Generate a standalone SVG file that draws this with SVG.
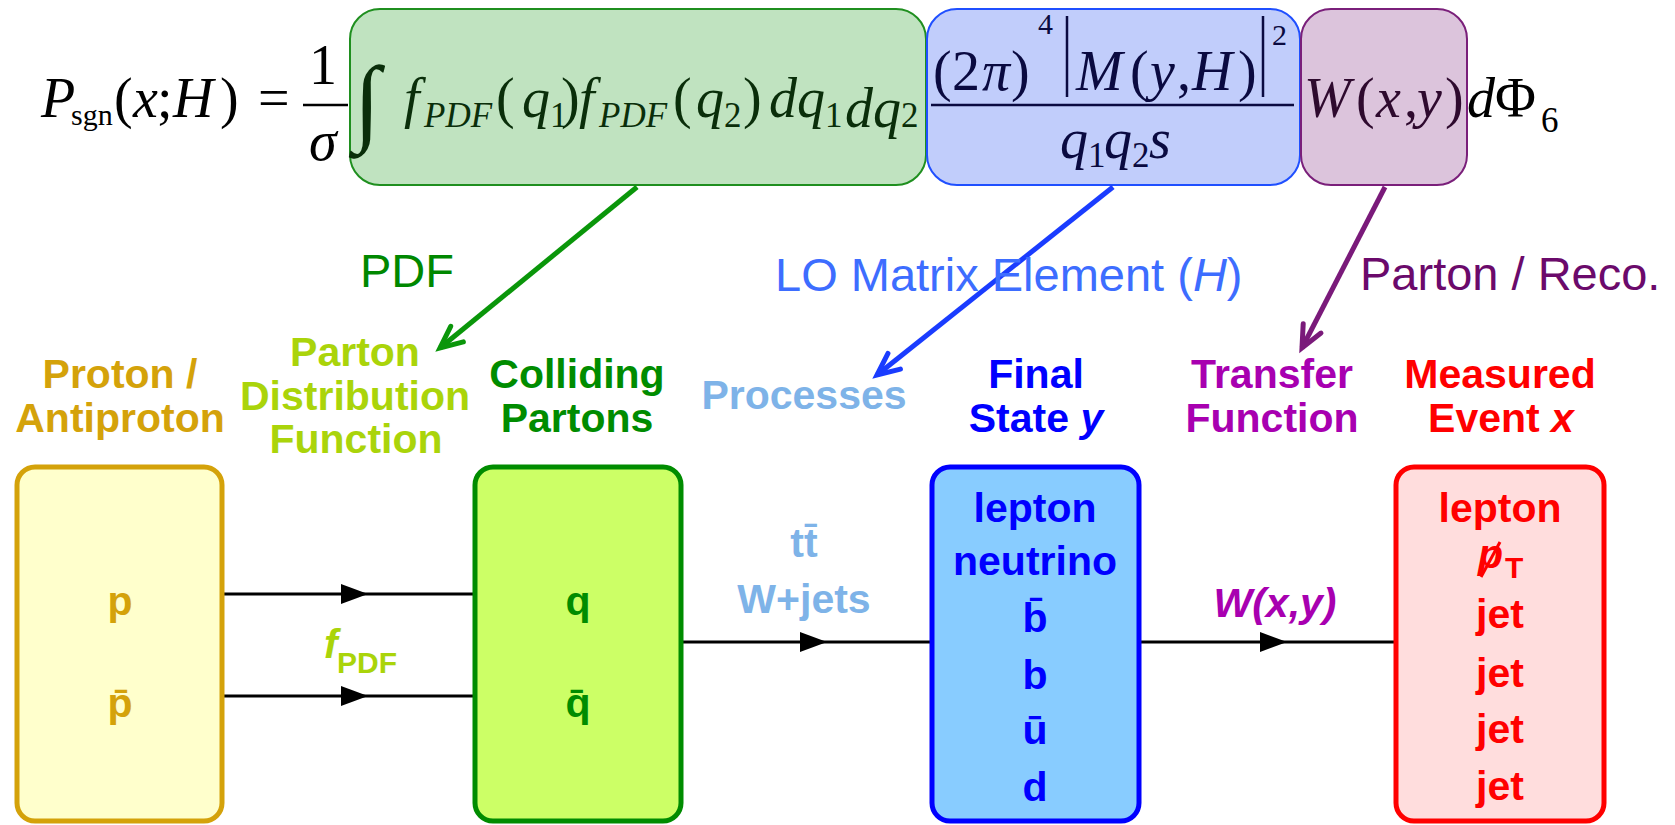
<svg xmlns="http://www.w3.org/2000/svg" width="1675" height="825" viewBox="0 0 1675 825">
<style>
.fm{font-family:"Liberation Serif","Times New Roman",serif;font-size:56px}
.it{font-style:italic}
.sub{font-size:35px}
.sup{font-size:30px}
.lab{font-family:"Liberation Sans",Arial,sans-serif;font-weight:bold;font-size:41px;text-anchor:middle}
.reg{font-family:"Liberation Sans",Arial,sans-serif;font-size:47px}
.bx{stroke-width:5}
.fb{stroke-width:2}
.conn{stroke:#000;stroke-width:3;fill:none;marker-mid:url(#tri)}
</style>
<defs>
<marker id="tri" markerUnits="userSpaceOnUse" orient="auto" overflow="visible" markerWidth="1" markerHeight="1" refX="0" refY="0">
<path d="M-27,-10 L0,0 L-27,10 Z" fill="#000"/>
</marker>
<marker id="chg" markerUnits="userSpaceOnUse" orient="auto" overflow="visible" markerWidth="1" markerHeight="1" refX="0" refY="0">
<path d="M-22,-10 L0,0 L-22,10" fill="none" stroke="#0a960a" stroke-width="5" stroke-linecap="round"/>
</marker>
<marker id="chb" markerUnits="userSpaceOnUse" orient="auto" overflow="visible" markerWidth="1" markerHeight="1" refX="0" refY="0">
<path d="M-22,-10 L0,0 L-22,10" fill="none" stroke="#1a3cff" stroke-width="5" stroke-linecap="round"/>
</marker>
<marker id="chp" markerUnits="userSpaceOnUse" orient="auto" overflow="visible" markerWidth="1" markerHeight="1" refX="0" refY="0">
<path d="M-22,-10 L0,0 L-22,10" fill="none" stroke="#7a1a7a" stroke-width="5" stroke-linecap="round"/>
</marker>
</defs>
<rect width="1675" height="825" fill="#fff"/>

<g id="formula">
<rect x="350" y="9" width="576" height="176" rx="30" fill="#c0e3c0" stroke="#1f8f1f" class="fb"/>
<rect x="927" y="9" width="373" height="176" rx="30" fill="#c1cdfb" stroke="#1f4fff" class="fb"/>
<rect x="1301" y="9" width="166" height="176" rx="30" fill="#dcc4dc" stroke="#7a1f7a" class="fb"/>
<text class="fm" y="117" fill="#000"><tspan class="it" x="41">P</tspan><tspan x="71" y="125" style="font-size:30px">sgn</tspan><tspan x="114" y="117">(</tspan><tspan class="it" x="133">x</tspan><tspan x="157">;</tspan><tspan class="it" x="173">H</tspan><tspan x="220">)</tspan><tspan x="258">=</tspan></text>
<text class="fm" x="309" y="84">1</text>
<line x1="303" y1="105" x2="348" y2="105" stroke="#000" stroke-width="2.5"/>
<text class="fm it" x="309" y="160">σ</text>
<text class="fm" x="354" y="133" style="font-size:96px" fill="#0a2e0a">∫</text>
<text class="fm" y="117" fill="#0a2e0a"><tspan class="it" x="404">f</tspan><tspan class="it sub" x="424" y="127">PDF</tspan><tspan x="496" y="117">(</tspan><tspan class="it" x="522">q</tspan><tspan class="sub" x="550" y="127">1</tspan><tspan x="561" y="117">)</tspan><tspan class="it" x="579">f</tspan><tspan class="it sub" x="599" y="127">PDF</tspan><tspan x="673" y="117">(</tspan><tspan class="it" x="696">q</tspan><tspan class="sub" x="724" y="127">2</tspan><tspan x="743" y="117">)</tspan><tspan class="it" x="769">d</tspan><tspan class="it" x="797">q</tspan><tspan class="sub" x="825" y="127">1</tspan><tspan class="it" x="845">d</tspan><tspan class="it" x="873">q</tspan><tspan class="sub" x="901" y="127">2</tspan></text>
<text class="fm" y="90" fill="#0a0a40"><tspan x="933">(</tspan><tspan x="952">2</tspan><tspan class="it" x="982">π</tspan><tspan x="1011">)</tspan><tspan class="sup" x="1038" y="34">4</tspan><tspan class="it" x="1076" y="90">M</tspan><tspan x="1130">(</tspan><tspan class="it" x="1150">y</tspan><tspan x="1177">,</tspan><tspan class="it" x="1192">H</tspan><tspan x="1238">)</tspan><tspan class="sup" x="1272" y="45">2</tspan></text>
<line x1="1067" y1="16" x2="1067" y2="97" stroke="#0a0a40" stroke-width="2.5"/>
<line x1="1263" y1="16" x2="1263" y2="97" stroke="#0a0a40" stroke-width="2.5"/>
<line x1="931" y1="105" x2="1294" y2="105" stroke="#0a0a40" stroke-width="2.5"/>
<text class="fm" y="158" fill="#0a0a40"><tspan class="it" x="1060">q</tspan><tspan class="sub" x="1088" y="167">1</tspan><tspan class="it" x="1104" y="158">q</tspan><tspan class="sub" x="1132" y="167">2</tspan><tspan class="it" x="1149" y="158">s</tspan></text>
<text class="fm" y="117" fill="#2e0a2e"><tspan class="it" x="1304">W</tspan><tspan x="1356">(</tspan><tspan class="it" x="1376">x</tspan><tspan x="1404">,</tspan><tspan class="it" x="1417">y</tspan><tspan x="1445">)</tspan></text>
<text class="fm" y="117" fill="#000"><tspan class="it" x="1467">d</tspan><tspan x="1495">Φ</tspan><tspan class="sub" x="1541" y="132">6</tspan></text>
</g>

<g id="connectors">
<line x1="637" y1="187" x2="440" y2="348" stroke="#0a960a" stroke-width="5" marker-end="url(#chg)"/>
<line x1="1113" y1="187" x2="877" y2="375" stroke="#1a3cff" stroke-width="5" marker-end="url(#chb)"/>
<line x1="1385" y1="187" x2="1302" y2="348" stroke="#7a1a7a" stroke-width="5" marker-end="url(#chp)"/>
<path class="conn" d="M224,594 L368,594 L475,594"/>
<path class="conn" d="M224,696 L368,696 L475,696"/>
<path class="conn" d="M681,642 L827,642 L932,642"/>
<path class="conn" d="M1139,642 L1287,642 L1396,642"/>
</g>

<g id="label-pdf">
<text class="reg" x="360" y="287" fill="#008800">PDF</text>
</g>
<g id="label-lo">
<text class="reg" x="775" y="291" fill="#3d6dff">LO Matrix Element (<tspan font-style="italic">H</tspan>)</text>
</g>
<g id="label-reco">
<text class="reg" x="1360" y="290" fill="#6b0a6b">Parton / Reco.</text>
</g>

<g id="proton">
<text class="lab" x="120" y="388" fill="#d4a20a">Proton /</text>
<text class="lab" x="120" y="432" fill="#d4a20a">Antiproton</text>
<rect x="17" y="467" width="205" height="354" rx="18" fill="#ffffcc" stroke="#d4a20a" class="bx"/>
<text class="lab" x="120" y="615" fill="#d4a20a">p</text>
<text class="lab" x="120" y="717" fill="#d4a20a">p̄</text>
</g>

<g id="pdf">
<text class="lab" x="355" y="366" fill="#aad40a">Parton</text>
<text class="lab" x="355" y="410" fill="#aad40a">Distribution</text>
<text class="lab" x="356" y="453" fill="#aad40a">Function</text>
<text class="lab" x="324" y="658" fill="#aad40a" style="text-anchor:start"><tspan font-style="italic">f</tspan><tspan x="337" y="673" font-size="30">PDF</tspan></text>
</g>

<g id="colliding">
<text class="lab" x="577" y="388" fill="#008c00">Colliding</text>
<text class="lab" x="577" y="432" fill="#008c00">Partons</text>
<rect x="475" y="467" width="206" height="354" rx="18" fill="#ccff66" stroke="#008c00" class="bx"/>
<text class="lab" x="578" y="615" fill="#008c00">q</text>
<text class="lab" x="578" y="717" fill="#008c00">q̄</text>
</g>

<g id="processes">
<text class="lab" x="804" y="409" fill="#7eb3e8">Processes</text>
<text class="lab" x="804" y="557" fill="#7eb3e8">tt̄</text>
<text class="lab" x="804" y="613" fill="#7eb3e8">W+jets</text>
</g>

<g id="final">
<text class="lab" x="1036" y="388" fill="#0000ff">Final</text>
<text class="lab" x="1036" y="432" fill="#0000ff">State <tspan font-style="italic">y</tspan></text>
<rect x="932" y="467" width="207" height="354" rx="18" fill="#88ccff" stroke="#0000ff" class="bx"/>
<text class="lab" x="1035" y="522" fill="#0000ff">lepton</text>
<text class="lab" x="1035" y="575" fill="#0000ff">neutrino</text>
<text class="lab" x="1035" y="632" fill="#0000ff">b̄</text>
<text class="lab" x="1035" y="689" fill="#0000ff">b</text>
<text class="lab" x="1035" y="744" fill="#0000ff">ū</text>
<text class="lab" x="1035" y="801" fill="#0000ff">d</text>
</g>

<g id="transfer">
<text class="lab" x="1272" y="388" fill="#a800b0">Transfer</text>
<text class="lab" x="1272" y="432" fill="#a800b0">Function</text>
<text class="lab" x="1275" y="617" fill="#a800b0" font-style="italic">W(x,y)</text>
</g>

<g id="measured">
<text class="lab" x="1500" y="388" fill="#ff0000">Measured</text>
<text class="lab" x="1501" y="432" fill="#ff0000">Event <tspan font-style="italic">x</tspan></text>
<rect x="1396" y="467" width="208" height="354" rx="18" fill="#ffdddd" stroke="#ff0000" class="bx"/>
<text class="lab" x="1500" y="522" fill="#ff0000">lepton</text>
<text class="lab" x="1478" y="568" fill="#ff0000" style="text-anchor:start"><tspan font-style="italic">p</tspan><tspan x="1505" y="578" font-size="30">T</tspan></text>
<line x1="1481" y1="577" x2="1500" y2="542" stroke="#ff0000" stroke-width="3"/>
<text class="lab" x="1500" y="628" fill="#ff0000">jet</text>
<text class="lab" x="1500" y="687" fill="#ff0000">jet</text>
<text class="lab" x="1500" y="743" fill="#ff0000">jet</text>
<text class="lab" x="1500" y="800" fill="#ff0000">jet</text>
</g>
</svg>
